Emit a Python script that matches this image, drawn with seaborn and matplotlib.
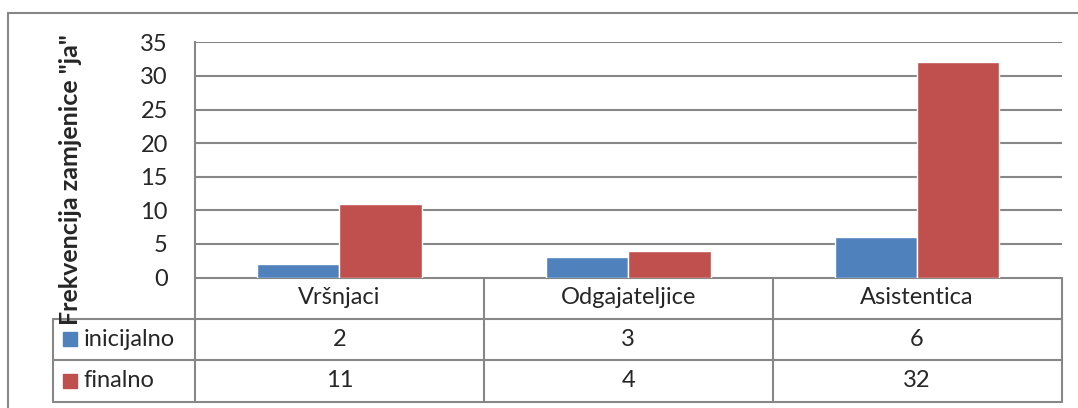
import numpy as np
import pandas as pd
import seaborn as sns
import matplotlib.pyplot as plt
from matplotlib.lines import Line2D
from matplotlib.patches import Rectangle
import matplotlib.transforms as mtransforms

# data
kategorije = ["Vršnjaci", "Odgajateljice", "Asistentica"]
serije = ["inicijalno", "finalno"]
inicijalno = [2, 3, 6]
finalno = [11, 4, 32]
y_ticks = [0, 5, 10, 15, 20, 25, 30, 35]
y_label = 'Frekvencija zamjenice "ja"'

boje = ["#4F81BD", "#C0504D"]
siva = "#878787"
fs = 17

df = pd.DataFrame({
    "kategorija": kategorije * 2,
    "serija": [serije[0]] * 3 + [serije[1]] * 3,
    "vrijednost": inicijalno + finalno,
})

sns.set_style("white")
plt.rcParams["font.family"] = ["Lato", "DejaVu Sans"]

W, H = 1078, 408
fig = plt.figure(figsize=(W / 100, H / 100), dpi=100)

# plot area in pixels
x0, x1 = 195, 1061.5
ytop, ybot = 42.3, 277.5
ax = fig.add_axes([x0 / W, 1 - ybot / H, (x1 - x0) / W, (ybot - ytop) / H])

sns.barplot(data=df, x="kategorija", y="vrijednost", hue="serija",
            palette=boje, width=0.57, gap=0, saturation=1,
            legend=False, ax=ax, zorder=3)

ax.set_xlim(-0.5, 2.5)
ax.set_ylim(0, 35)
ax.set_yticks(y_ticks)
ax.set_yticklabels([str(t) for t in y_ticks], fontsize=fs)
ax.tick_params(axis="y", length=0, pad=19.5)
ax.set_xticks([])
ax.set_xlabel("")
ax.set_ylabel("")
for t in y_ticks[1:]:
    ax.axhline(t, color=siva, lw=1.5, zorder=1)
for s in ["top", "right", "bottom"]:
    ax.spines[s].set_visible(False)
ax.spines["left"].set_color(siva)
ax.spines["left"].set_linewidth(1.5)

# y label
fig.text(71 / W, 1 - 180 / H, y_label, rotation=90, ha="center", va="center",
         fontsize=18, fontweight="bold")

# data table under the axis (x in data coords, y in axes fraction)
tr = mtransforms.blended_transform_factory(ax.transData, ax.transAxes)
ph = ybot - ytop
r0 = 0.0
r1 = -(318.5 - ybot) / ph
r2 = -(360 - ybot) / ph
r3 = -(401.7 - ybot) / ph
xl = -0.5 - (x0 - 53) / (x1 - x0) * 3

lk = dict(color=siva, lw=1.5, transform=tr, clip_on=False)
ax.add_line(Line2D([-0.5, 2.5], [r0, r0], **lk))
for r in [r1, r2, r3]:
    ax.add_line(Line2D([xl, 2.5], [r, r], **lk))
ax.add_line(Line2D([xl, xl], [r1, r3], **lk))
for i in range(len(kategorije) + 1):
    ax.add_line(Line2D([i - 0.5, i - 0.5], [r0, r3], **lk))

for i, k in enumerate(kategorije):
    ax.text(i, (r0 + r1) / 2, k, transform=tr, ha="center", va="center", fontsize=fs)
    ax.text(i, (r1 + r2) / 2, str(inicijalno[i]), transform=tr, ha="center", va="center", fontsize=fs)
    ax.text(i, (r2 + r3) / 2, str(finalno[i]), transform=tr, ha="center", va="center", fontsize=fs)

# legend keys in the table
kx = xl + (63 - 53) / (x1 - x0) * 3
kw = 14 / (x1 - x0) * 3
kh = 14 / ph
tx = xl + (84 - 53) / (x1 - x0) * 3
for (ra, rb), s, c in zip([(r1, r2), (r2, r3)], serije, boje):
    ym = (ra + rb) / 2
    ax.add_patch(Rectangle((kx, ym - kh / 2), kw, kh, color=c, transform=tr, clip_on=False))
    ax.text(tx, ym, s, transform=tr, ha="left", va="center", fontsize=fs)

# outer chart frame
fk = dict(color=siva, lw=1.5, transform=fig.transFigure)
fig.add_artist(Line2D([8 / W, 1.0], [1 - 13 / H, 1 - 13 / H], **fk))
fig.add_artist(Line2D([8 / W, 8 / W], [1 - 13 / H, 0.0], **fk))

fig.savefig("out.png", dpi=100)
